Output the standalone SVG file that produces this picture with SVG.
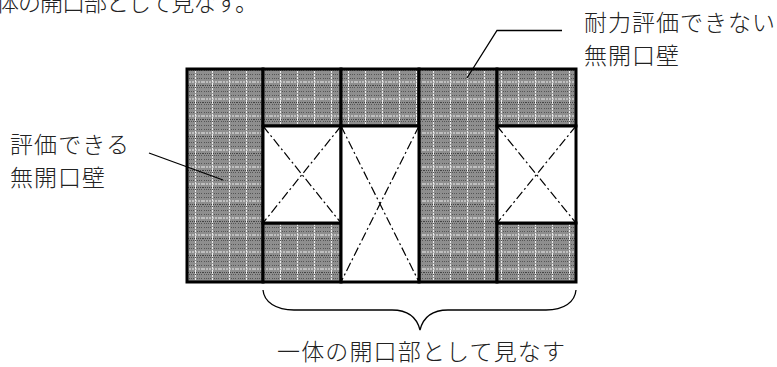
<svg xmlns="http://www.w3.org/2000/svg" width="777" height="367" viewBox="0 0 777 367">
<style>
.t{font-family:"Noto Sans CJK JP","Noto Sans CJK SC",sans-serif;font-size:23px;font-weight:300;fill:#222}
.w{fill:url(#h);stroke:#000;stroke-width:3}
.o{fill:#fff;stroke:#000;stroke-width:3}
.x{stroke:#000;stroke-width:1.2;stroke-dasharray:9 3 2 3;fill:none}
.l{stroke:#000;stroke-width:1.3;fill:none}
</style>
<defs>
<pattern id="h" width="17" height="17" patternUnits="userSpaceOnUse" x="186" y="68">
<rect width="17" height="17" fill="#8e8e8e"/>
<path d="M0 0h1v1H0zM2 0h1v1H2zM4 0h1v1H4zM6 0h1v1H6zM8 0h1v1H8zM10 0h1v1h-1zM12 0h1v1h-1zM14 0h1v1h-1zM16 0h1v1h-1z" fill="#444"/>
<path d="M1 2h1v1H1zM3 2h1v1H3zM5 2h1v1H5zM7 2h1v1H7zM9 2h1v1H9zM11 2h1v1h-1zM13 2h1v1h-1zM15 2h1v1h-1zM1 6h1v1H1zM3 6h1v1H3zM5 6h1v1H5zM7 6h1v1H7zM9 6h1v1H9zM11 6h1v1h-1zM13 6h1v1h-1zM15 6h1v1h-1zM1 10h1v1H1zM3 10h1v1H3zM5 10h1v1H5zM7 10h1v1H7zM9 10h1v1H9zM11 10h1v1h-1zM13 10h1v1h-1zM15 10h1v1h-1z" fill="#555"/>
<path d="M0 14h17" stroke="#eee" stroke-width="1" stroke-dasharray="2 1"/>
<path d="M9.500 0v17" stroke="#eee" stroke-width="1" stroke-dasharray="2 1"/>
</pattern>
</defs>
<text class="t" x="-4" y="11" textLength="262">体の開口部として見なす。</text>
<g id="wall-left"><rect class="w" x="187" y="69" width="76" height="213"/></g>
<g id="wall-top-1"><rect class="w" x="263" y="69" width="78" height="57"/></g>
<g id="wall-top-2"><rect class="w" x="341" y="69" width="78" height="57"/></g>
<g id="wall-middle"><rect class="w" x="419" y="69" width="78" height="213"/></g>
<g id="wall-top-3"><rect class="w" x="497" y="69" width="79" height="57"/></g>
<g id="wall-bottom-1"><rect class="w" x="263" y="223" width="78" height="59"/></g>
<g id="wall-bottom-3"><rect class="w" x="497" y="223" width="79" height="59"/></g>
<g id="window-1"><rect class="o" x="263" y="126" width="78" height="97"/><path class="x" d="M263 126L341 223M341 126L263 223"/></g>
<g id="door"><rect class="o" x="341" y="126" width="78" height="156"/><path class="x" d="M341 126L419 282M419 126L341 282"/></g>
<g id="window-3"><rect class="o" x="497" y="126" width="79" height="97"/><path class="x" d="M497 126L576 223M576 126L497 223"/></g>
<g id="connectors">
<path class="l" d="M149 153L223 180"/>
<path class="l" d="M467 78L497 30.500H562"/>
<path class="l" stroke-width="1.500" d="M263 290C264 302 276 310 294 310H392C408 310 417 318 420 330C423 318 432 310 448 310H546C564 310 575 302 576 290"/>
</g>
<g id="label-can"><text class="t" x="10" y="153" textLength="119">評価できる</text><text class="t" x="10" y="186" textLength="95">無開口壁</text></g>
<g id="label-cannot"><text class="t" x="584" y="31" textLength="191">耐力評価できない</text><text class="t" x="584" y="64" textLength="95">無開口壁</text></g>
<g id="label-brace"><text class="t" x="277" y="360" textLength="288">一体の開口部として見なす</text></g>
</svg>
